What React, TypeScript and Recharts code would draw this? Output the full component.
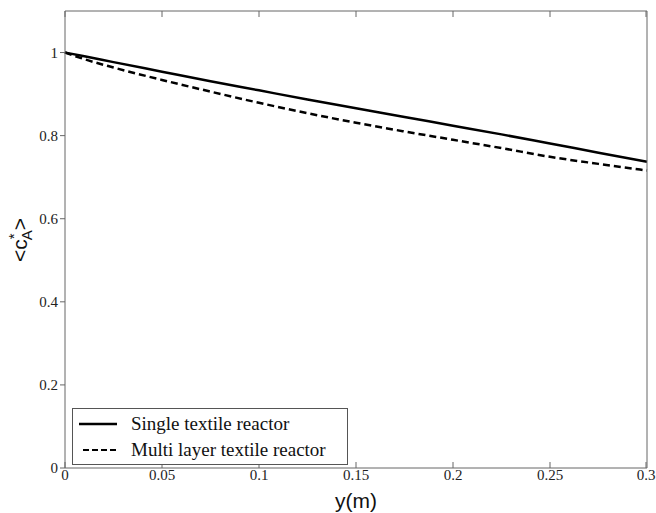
import { LineChart, Line, XAxis, YAxis, Legend } from "recharts";

// axial position (m)
const yPos = [0, 0.01, 0.025, 0.05, 0.075, 0.1, 0.125, 0.15, 0.175, 0.2, 0.225, 0.25, 0.275, 0.3];
const singleTextile = [1, 0.991, 0.977, 0.954, 0.931, 0.909, 0.887, 0.866, 0.845, 0.824, 0.803, 0.781, 0.759, 0.737];
const multiLayer = [1, 0.984, 0.964, 0.934, 0.906, 0.879, 0.854, 0.831, 0.81, 0.79, 0.77, 0.749, 0.732, 0.716];
const xTicks = [0, 0.05, 0.1, 0.15, 0.2, 0.25, 0.3];
const yTicks = [0, 0.2, 0.4, 0.6, 0.8, 1];

const data = yPos.map((y, i) => ({ y, single: singleTextile[i], multi: multiLayer[i] }));

const AXIS = "#666";
const SERIF = "'Liberation Serif', 'Times New Roman', serif";
const SANS = "'Liberation Sans', Arial, sans-serif";

const BottomTick = (props: any) => {
    const { x, y, payload } = props;
    return (
        <g>
            <line x1={x} y1={y} x2={x} y2={y - 6} stroke={AXIS} />
            <text x={x} y={y + 12} textAnchor="middle" fontFamily={SERIF} fontSize={15} fill="#222">
                {payload.value}
            </text>
        </g>
    );
};

const TopTick = (props: any) => {
    const { x, y } = props;
    return <line x1={x} y1={y} x2={x} y2={y + 6} stroke={AXIS} />;
};

const RightTick = (props: any) => {
    const { x, y } = props;
    return <line x1={x} y1={y} x2={x - 6} y2={y} stroke={AXIS} />;
};

const YLabel = () => (
    <text
        x={27}
        y={240}
        transform="rotate(-90, 27, 240)"
        textAnchor="middle"
        fontFamily={SANS}
        fontSize={21}
        fill="#111"
    >
        <tspan>{"<c"}</tspan>
        <tspan dy={-8} fontSize={15}>*</tspan>
        <tspan dy={13} dx={-7} fontSize={15}>A</tspan>
        <tspan dy={-5}>{">"}</tspan>
    </text>
);

const LegendBox = () => (
    <div
        style={{
            width: 274,
            height: 55,
            border: "1px solid #555",
            background: "#fff",
            fontFamily: SERIF,
            fontSize: 19,
            color: "#111",
        }}
    >
        <div style={{ display: "flex", alignItems: "center", height: 26, marginTop: 2 }}>
            <svg width={52} height={10} style={{ marginLeft: 6 }}>
                <line x1={0} y1={5} x2={38} y2={5} stroke="#000" strokeWidth={2.5} />
            </svg>
            <span>Single textile reactor</span>
        </div>
        <div style={{ display: "flex", alignItems: "center", height: 26 }}>
            <svg width={52} height={10} style={{ marginLeft: 6 }}>
                <line x1={4} y1={5} x2={38} y2={5} stroke="#000" strokeWidth={2} strokeDasharray="6 3" />
            </svg>
            <span>Multi layer textile reactor</span>
        </div>
    </div>
);

export default function App() {
    return (
        <div style={{ position: "absolute", left: 0, top: 0, width: 656, height: 513, background: "#fff" }}>
            <LineChart width={656} height={513} data={data} margin={{ top: 10, right: 8, bottom: 0, left: 0 }}>
                <XAxis
                    dataKey="y"
                    type="number"
                    domain={[0, 0.3]}
                    ticks={xTicks}
                    height={45}
                    tickSize={0}
                    tickMargin={0}
                    tickLine={false}
                    stroke={AXIS}
                    tick={<BottomTick />}
                    label={{ value: "y(m)", position: "insideBottom", offset: 5, fontFamily: SANS, fontSize: 21, fill: "#111" }}
                />
                <XAxis
                    xAxisId="top"
                    dataKey="y"
                    type="number"
                    orientation="top"
                    domain={[0, 0.3]}
                    ticks={xTicks}
                    height={1}
                    tickSize={0}
                    tickMargin={0}
                    tickLine={false}
                    stroke={AXIS}
                    tick={<TopTick />}
                />
                <YAxis
                    type="number"
                    domain={[0, 1.1]}
                    ticks={yTicks}
                    width={65}
                    tickSize={5}
                    tickMargin={2}
                    stroke={AXIS}
                    tick={{ fontFamily: SERIF, fontSize: 15, fill: "#222" }}
                    label={<YLabel />}
                />
                <YAxis
                    yAxisId="right"
                    orientation="right"
                    type="number"
                    domain={[0, 1.1]}
                    ticks={yTicks}
                    width={1}
                    tickSize={0}
                    tickMargin={0}
                    tickLine={false}
                    stroke={AXIS}
                    tick={<RightTick />}
                />
                <Legend
                    layout="vertical"
                    align="center"
                    verticalAlign="middle"
                    content={<LegendBox />}
                    wrapperStyle={{ left: 72, top: 408, width: 276, height: 57 }}
                />
                <Line
                    dataKey="single"
                    name="Single textile reactor"
                    stroke="#000"
                    strokeWidth={2.5}
                    dot={false}
                    type="monotone"
                    isAnimationActive={false}
                />
                <Line
                    dataKey="multi"
                    name="Multi layer textile reactor"
                    stroke="#000"
                    strokeWidth={2.5}
                    strokeDasharray="7 4"
                    dot={false}
                    type="monotone"
                    isAnimationActive={false}
                />
            </LineChart>
        </div>
    );
}
